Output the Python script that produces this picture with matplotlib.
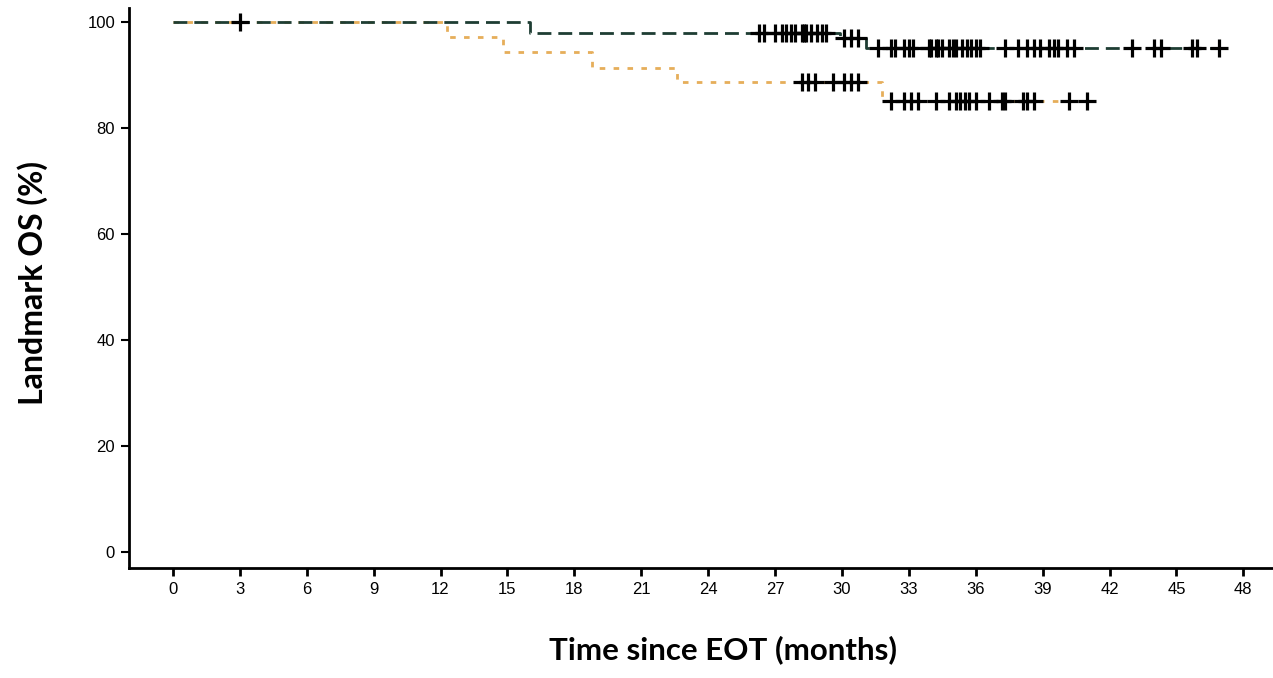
import numpy as np
import matplotlib
matplotlib.use("Agg")
import matplotlib.pyplot as plt

# ---------- data ----------
# arm 1 (dark green, dashed)
green_times = [0, 16.0, 29.9, 31.1]
green_surv = [100, 97.9, 96.9, 95.0]
green_end = 47.0
green_censor = [3.0,
                26.3, 26.5, 27.0, 27.3, 27.5, 27.7, 27.9, 28.2, 28.3, 28.4, 28.6, 28.9, 29.1, 29.3,
                30.1, 30.4, 30.7,
                31.6, 32.2, 32.4, 32.8, 33.0, 33.2, 33.9, 34.0, 34.2, 34.3, 34.5, 34.8, 35.0, 35.1,
                35.4, 35.6, 35.8, 36.0, 36.2, 37.3, 37.9, 38.3, 38.6, 38.9, 39.3, 39.5, 39.7,
                40.1, 40.4, 43.0, 44.0, 44.3, 45.7, 45.9, 46.9]

# arm 2 (orange, dotted)
orange_times = [0, 12.3, 14.8, 18.8, 22.6, 31.8]
orange_surv = [100, 97.1, 94.3, 91.4, 88.6, 85.0]
orange_end = 41.0
orange_censor = [28.2, 28.5, 28.8, 29.6, 30.1, 30.4, 30.7,
                 32.2, 32.8, 33.1, 33.4, 34.2, 34.8, 35.1, 35.3, 35.5, 35.7, 36.0, 36.6,
                 37.2, 37.3, 38.1, 38.3, 38.6, 40.2, 41.0]

x_ticks = list(range(0, 49, 3))
y_ticks = [0, 20, 40, 60, 80, 100]

GREEN = "#1e3d33"
ORANGE = "#e6ae5a"


def surv_at(times, surv, t):
    idx = np.searchsorted(times, t, side="right") - 1
    return np.asarray(surv)[idx]


fig = plt.figure(figsize=(12.73, 6.78), dpi=100)
ax = fig.add_axes([129/1273, 1 - 568/678, 1 - 129/1273, (568 - 8)/678])

for times, surv, end, col, ls in [
    (orange_times, orange_surv, orange_end, ORANGE, (0, (2, 3))),
    (green_times, green_surv, green_end, GREEN, (0, (5, 2.5))),
]:
    xs = list(times) + [end]
    ys = list(surv) + [surv[-1]]
    ax.step(xs, ys, where="post", color=col, lw=2.0, linestyle=ls)

for cens, times, surv in [(orange_censor, orange_times, orange_surv),
                          (green_censor, green_times, green_surv)]:
    ax.plot(cens, surv_at(times, surv, cens), linestyle="none", marker="+",
            color="black", markersize=13, markeredgewidth=2.3)

ax.set_xlim(-1.97, 49.33)
ax.set_ylim(-3.02, 102.64)
ax.set_xticks(x_ticks)
ax.set_yticks(y_ticks)

tick_font = dict(family="Liberation Sans", size=12)
ax.set_xticklabels([str(v) for v in x_ticks], **tick_font)
ax.set_yticklabels([str(v) for v in y_ticks], **tick_font)
ax.tick_params(axis="x", length=6, width=2, pad=4)
ax.tick_params(axis="y", length=6, width=1.5, pad=4)

for side in ["top", "right"]:
    ax.spines[side].set_visible(False)
for side in ["left", "bottom"]:
    ax.spines[side].set_linewidth(2)

fig.text(723/1273, 1 - 650/678, "Time since EOT (months)", ha="center", va="center",
         family="Lato", weight="bold", fontsize=22.5)
fig.text(33/1273, 1 - 283/678, "Landmark OS (%)", ha="center", va="center",
         rotation=90, family="Lato", weight="bold", fontsize=23)

fig.savefig("out.png", dpi=100)
